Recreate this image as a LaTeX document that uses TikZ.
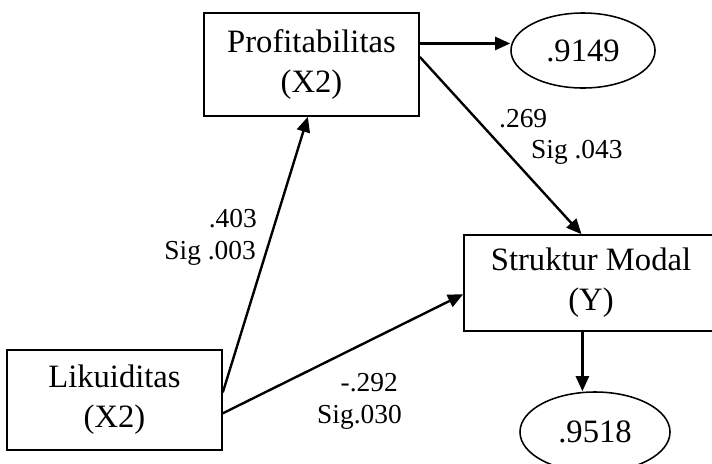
\documentclass[tikz,border=0pt]{standalone}
\usepackage{fontspec}
\setmainfont{Liberation Serif}
\usetikzlibrary{shapes.geometric,arrows.meta}
\tikzset{
  box/.style={rectangle,draw,line width=1.1pt,align=center,inner sep=0pt},
  err/.style={ellipse,draw,line width=1.1pt,inner sep=0pt},
  lbl/.style={font=\fontsize{19.5}{22}\selectfont,inner sep=0pt},
  >={Triangle[length=0.38cm,width=0.33cm]}
}
\begin{document}
\begin{tikzpicture}[x=0.025cm,y=-0.025cm,font=\fontsize{23.2}{28.5}\selectfont,line width=1.7pt]
                \useasboundingbox (0,0) rectangle (712,463);
                \node[box,minimum width=5.375cm,minimum height=2.575cm] (P) at (311.5,64.5) {Profitabilitas\\(X2)};
                \node[box,minimum width=5.375cm,minimum height=2.5cm] (L) at (114.5,400) {Likuiditas\\(X2)};
                \node[box,minimum width=6.35cm,minimum height=2.4cm] (Y) at (591,283) {Struktur Modal\\(Y)};
                \node[err,minimum width=3.6cm,minimum height=1.875cm] (E1) at (583,50.5) {.9149};
                \node[err,minimum width=3.75cm,minimum height=2cm] (E2) at (595,432) {.9518};
                \draw [->] (P.11) -- (P.11 -| E1.west);
                \draw [->] (P.4) -- (Y.101);
                \draw [->] (L.4) -- (P.266);
                \draw [->] (L.353) -- (Y.185);
                \draw [->] (Y.260) -- (Y.260 |- E2.north);
                \node[lbl,anchor=base east] (A1) at (258,227) {.403};
                \node[lbl,anchor=base east] (A2) at (257,259) {Sig .003};
                \node[lbl,anchor=base west] (B1) at (498,127) {.269};
                \node[lbl,anchor=base west] (B2) at (530,158) {Sig .043};
                \node[lbl,anchor=base east] (C1) at (399,391) {-.292};
                \node[lbl,anchor=base east] (C2) at (403,423) {Sig.030};
            \end{tikzpicture}
\end{document}
